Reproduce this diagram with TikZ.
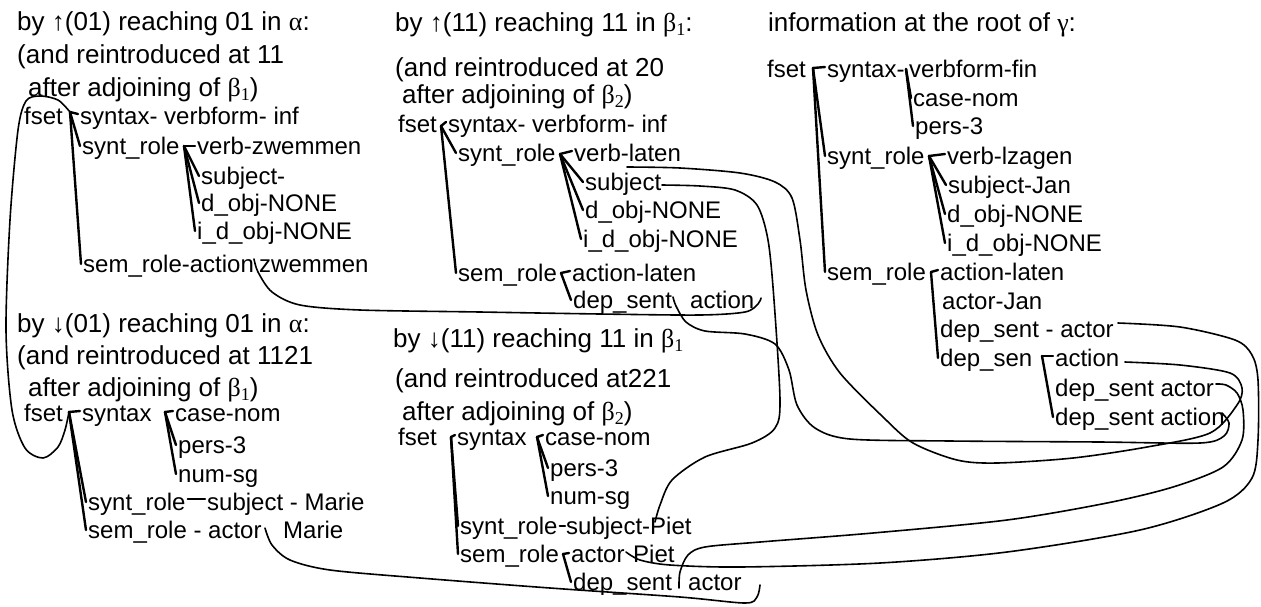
\documentclass[tikz,border=0pt]{standalone}
\usepackage{fontspec}
\setmainfont{Liberation Sans}
\newfontfamily\grk{Liberation Serif}
\usetikzlibrary{calc}
\newcommand{\mysub}[1]{\raisebox{-4pt}{\fontsize{18}{18}\selectfont\grk #1}}
\newcommand{\uarr}{{\grk ↑}}
\newcommand{\darr}{{\grk ↓}}
\newcommand{\lft}[1]{([shift={(-2,-8)}]#1.base west)}
\begin{document}
\begin{tikzpicture}[x=1pt,y=-1pt,
  hd/.style={anchor=base west,inner sep=0pt,font=\fontsize{26}{30}\selectfont},
  tx/.style={anchor=base west,inner sep=0pt,font=\fontsize{24}{28}\selectfont},
  br/.style={line width=2.4pt,line cap=round},
  lk/.style={line width=1.6pt,line cap=round,line join=round}]
\useasboundingbox[fill=white] (0,0) rectangle (1261,606);

% ---------- A : up(01) ----------
\node[hd] (hA1) at (17,30) {by \uarr(01) reaching 01 in {\grk α}:};
\node[hd] (hA2) at (17,63) {(and reintroduced at 11};
\node[hd] (hA3) at (28,96) {after adjoining of {\grk β}\mysub{1})};
\node[tx] (fsetA) at (24,124) {fset};
\node[tx] (synA) at (80,124) {syntax- verbform- inf};
\node[tx] (srA) at (82,154) {synt\_role};
\node[tx] (verbA) at (197,154) {verb-zwemmen};
\node[tx] (subjA) at (201,184) {subject-};
\node[tx] (dobjA) at (201,211) {d\_obj-NONE};
\node[tx] (idobjA) at (197,239) {i\_d\_obj-NONE};
\node[tx] (semA) at (83,272) {sem\_role-action};
\node[tx] (zwA) at (259,272) {zwemmen};
\coordinate (jA0) at (70,112);
\coordinate (jA1) at (184,146);
\draw[br] (jA0) -- ([shift={(-2,-10)}]synA.base west);
\draw[br] (jA0) -- \lft{srA};
\draw[br] (jA0) -- \lft{semA};
\draw[br] (jA1) -- \lft{verbA};
\draw[br] (jA1) -- \lft{subjA};
\draw[br] (jA1) -- \lft{dobjA};
\draw[br] (jA1) -- \lft{idobjA};

% ---------- B : down(01) ----------
\node[hd] (hB1) at (17,332) {by \darr(01) reaching 01 in {\grk α}:};
\node[hd] (hB2) at (17,364) {(and reintroduced at 1121};
\node[hd] (hB3) at (28,396) {after adjoining of {\grk β}\mysub{1})};
\node[tx] (fsetB) at (24,421) {fset};
\node[tx] (synB) at (82,421) {syntax};
\node[tx] (caseB) at (175,421) {case-nom};
\node[tx] (persB) at (178,453) {pers-3};
\node[tx] (numB) at (178,482) {num-sg};
\node[tx] (srB) at (88,510) {synt\_role};
\node[tx] (subjB) at (207,510) {subject - Marie};
\node[tx] (semB) at (88,538) {sem\_role - actor};
\node[tx] (marB) at (283,538) {Marie};
\coordinate (jB0) at (69,412);
\coordinate (jB1) at (165,412);
\draw[br] (jB0) -- ([shift={(-2,-10)}]synB.base west);
\draw[br] (jB0) -- \lft{srB};
\draw[br] (jB0) -- \lft{semB};
\draw[br] (jB1) -- ([shift={(-2,-10)}]caseB.base west);
\draw[br] (jB1) -- \lft{persB};
\draw[br] (jB1) -- \lft{numB};
\draw[br] ([shift={(2,-11)}]srB.base east) -- ([shift={(-2,-11)}]subjB.base west);

% ---------- C : up(11) ----------
\node[hd] (hC1) at (395,31) {by \uarr(11) reaching 11 in {\grk β}\mysub{1}:};
\node[hd] (hC2) at (395,76) {(and reintroduced at 20};
\node[hd] (hC3) at (402,103) {after adjoining of {\grk β}\mysub{2})};
\node[tx] (fsetC) at (398,132) {fset};
\node[tx] (synC) at (448,132) {syntax- verbform- inf};
\node[tx] (srC) at (458,161) {synt\_role};
\node[tx] (verbC) at (574,161) {verb-laten};
\node[tx] (subjC) at (585,190) {subject};
\node[tx] (dobjC) at (585,218) {d\_obj-NONE};
\node[tx] (idobjC) at (583,247) {i\_d\_obj-NONE};
\node[tx] (semC) at (458,281) {sem\_role};
\node[tx] (actlC) at (572,281) {action-laten};
\node[tx] (depC) at (573,308) {dep\_sent};
\node[tx] (actC) at (690,308) {action};
\coordinate (jC0) at (441,126);
\coordinate (jC1) at (560,154);
\coordinate (jC2) at (561,273);
\draw[br] (jC0) -- ([shift={(-2,-10)}]synC.base west);
\draw[br] (jC0) -- \lft{srC};
\draw[br] (jC0) -- \lft{semC};
\draw[br] (jC1) -- ([shift={(-2,-10)}]verbC.base west);
\draw[br] (jC1) -- \lft{subjC};
\draw[br] (jC1) -- \lft{dobjC};
\draw[br] (jC1) -- \lft{idobjC};
\draw[br] (jC2) -- ([shift={(-2,-10)}]actlC.base west);
\draw[br] (jC2) -- \lft{depC};

% ---------- D : down(11) ----------
\node[hd] (hD1) at (393,347) {by \darr(11) reaching 11 in {\grk β}\mysub{1}};
\node[hd] (hD2) at (395,387) {(and reintroduced at221};
\node[hd] (hD3) at (402,420) {after adjoining of {\grk β}\mysub{2})};
\node[tx] (fsetD) at (398,445) {fset};
\node[tx] (synD) at (457,445) {syntax};
\node[tx] (caseD) at (545,445) {case-nom};
\node[tx] (persD) at (550,476) {pers-3};
\node[tx] (numD) at (550,504) {num-sg};
\node[tx] (srD) at (460,534) {synt\_role};
\node[tx] (subjD) at (566,534) {subject-Piet};
\node[tx] (semD) at (460,562) {sem\_role};
\node[tx] (actorD) at (571,562) {actor};
\node[tx] (pietD) at (633,562) {Piet};
\node[tx] (depD) at (573,590) {dep\_sent};
\node[tx] (actor2D) at (688,590) {actor};
\coordinate (jD0) at (451,437);
\coordinate (jD1) at (537,437);
\coordinate (jD2) at (563,554);
\draw[br] (jD0) -- ([shift={(-2,-10)}]synD.base west);
\draw[br] (jD0) -- \lft{srD};
\draw[br] (jD0) -- \lft{semD};
\draw[br] (jD1) -- ([shift={(-2,-10)}]caseD.base west);
\draw[br] (jD1) -- \lft{persD};
\draw[br] (jD1) -- \lft{numD};
\draw[br] ([shift={(2,-8)}]srD.base east) -- ([shift={(-1,-8)}]subjD.base west);
\draw[br] (jD2) -- ([shift={(-2,-9)}]actorD.base west);
\draw[br] (jD2) -- \lft{depD};

% ---------- E : root of gamma ----------
\node[hd] (hE) at (768,31) {information at the root of {\grk γ}:};
\node[tx] (fsetE) at (767,77) {fset};
\node[tx] (synE) at (827,77) {syntax-};
\node[tx] (vfE) at (909,77) {verbform-fin};
\node[tx] (caseE) at (913,106) {case-nom};
\node[tx] (persE) at (915,134) {pers-3};
\node[tx] (srE) at (827,164) {synt\_role};
\node[tx] (verbE) at (947,164) {verb-lzagen};
\node[tx] (subjE) at (948,193) {subject-Jan};
\node[tx] (dobjE) at (947,222) {d\_obj-NONE};
\node[tx] (idobjE) at (947,251) {i\_d\_obj-NONE};
\node[tx] (semE) at (827,280) {sem\_role};
\node[tx] (actlE) at (940,280) {action-laten};
\node[tx] (actorJ) at (942,309) {actor-Jan};
\node[tx] (dsaE) at (940,337) {dep\_sent - actor};
\node[tx] (dsE) at (940,366) {dep\_sen};
\node[tx] (actE) at (1055,366) {action};
\node[tx] (dsa2E) at (1055,396) {dep\_sent actor};
\node[tx] (dsb2E) at (1055,425) {dep\_sent action};
\coordinate (jE0) at (813,68);
\coordinate (jE1) at (906,69);
\coordinate (jE2) at (929,156);
\coordinate (jE3) at (931,272);
\coordinate (jE4) at (1042,356);
\draw[br] (jE0) -- ([shift={(-2,-10)}]synE.base west);
\draw[br] (jE0) -- \lft{srE};
\draw[br] (jE0) -- \lft{semE};
\draw[br] (jE1) -- \lft{caseE};
\draw[br] (jE1) -- \lft{persE};
\draw[br] (jE2) -- ([shift={(-2,-10)}]verbE.base west);
\draw[br] (jE2) -- \lft{subjE};
\draw[br] (jE2) -- \lft{dobjE};
\draw[br] (jE2) -- \lft{idobjE};
\draw[br] (jE3) -- ([shift={(-2,-10)}]actlE.base west);
\draw[br] (jE3) -- \lft{dsE};
\draw[br] (jE4) -- ([shift={(-2,-10)}]actE.base west);
\draw[br] (jE4) -- \lft{dsb2E};

% ---------- long links ----------
% 1: fset(A) -- fset(B)
\draw[lk] plot[smooth] coordinates {(jA0) (58,100) (40,96) (26,101) (18,130) (10,220) (6,330) (12,410) (25,448) (43,458) (58,447) (65,430) (jB0)};
% 2: zwemmen(A) -- action(C)
\coordinate (c2a) at (254,259);
\coordinate (c2b) at (761,298);
\draw[lk] plot[smooth] coordinates {(c2a) (258,272) (272,292) (300,305) (360,310) (480,312) (600,314) (700,315) (745,312) (758,304) (c2b)};
% 3: Marie(B) -- actor(D)
\coordinate (c3a) at (265,528);
\coordinate (c3b) at (760,585);
\draw[lk] plot[smooth] coordinates {(c3a) (272,545) (290,560) (330,570) (420,578) (550,588) (680,597) (745,603) (757,597) (c3b)};
% 4: verb-laten(C) -- action(E)
\coordinate (c4a) at (627,167);
\coordinate (c4b) at (1125,362);
\draw[lk] plot[smooth] coordinates {(c4a) (680,168) (740,173) (775,182) (792,198) (800,240) (806,290) (818,335) (840,373) (883,417) (913,443) (957,460) (997,463) (1073,458) (1147,447) (1210,433) (1237,405) (1242,388) (1230,373) (1180,365) (c4b)};
% 5: dep_sent action(C) -- dep_sent action(E)
\coordinate (c5a) at (673,297);
\coordinate (c5b) at (1222,413);
\draw[lk] plot[smooth] coordinates {(c5a) (676,306) (686,322) (705,331) (745,334) (775,344) (789,370) (797,405) (815,428) (850,439) (950,441) (1100,442) (1200,443) (1224,436) (1229,423) (c5b)};
% 6: dep_sent actor(D) -- dep_sent actor(E)
\coordinate (c6a) at (679,588);
\coordinate (c6b) at (1216,384);
\draw[lk] plot[smooth] coordinates {(c6a) (680,572) (688,555) (705,547) (760,542) (873,533) (1007,520) (1107,503) (1173,487) (1223,467) (1242,440) (1243,410) (1237,393) (1226,385) (c6b)};
% 7: actor Piet(D) -- dep_sent - actor(E)
\coordinate (c7a) at (626,552);
\coordinate (c7b) at (1118,323);
\draw[lk] plot[smooth] coordinates {(c7a) (640,560) (670,565) (740,567) (880,563) (1007,552) (1140,530) (1223,503) (1252,478) (1258,440) (1258,380) (1252,355) (1235,340) (1180,327) (c7b)};
% 8: subject(C) -- subject-Piet(D)
\coordinate (c8a) at (662,185);
\coordinate (c8b) at (655,522);
\draw[lk] plot[smooth] coordinates {(c8a) (700,186) (735,190) (757,205) (768,240) (774,300) (780,400) (775,428) (752,443) (705,457) (672,480) (660,505) (c8b)};
\end{tikzpicture}
\end{document}
